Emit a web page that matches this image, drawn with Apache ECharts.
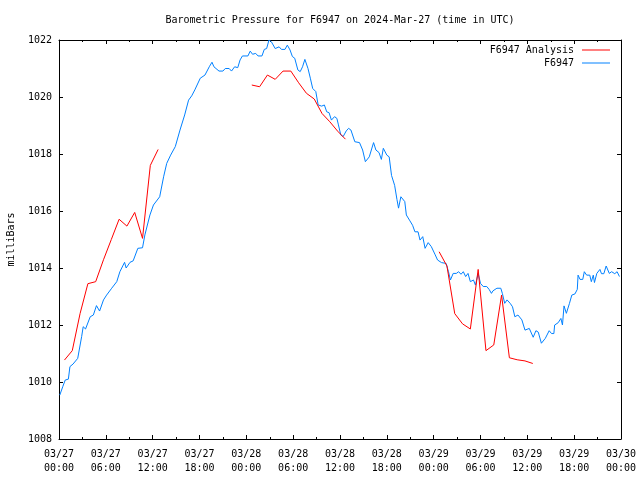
<!DOCTYPE html>
<html>
<head>
<meta charset="utf-8">
<style>html,body{margin:0;padding:0;background:#fff;}#c{width:640px;height:480px;}</style>
<script src="https://cdn.jsdelivr.net/npm/echarts/dist/echarts.min.js"></script>
</head>
<body>
<div id="c"></div>
<script>
// hours since 2024-03-27 00:00 UTC
var xTickLabels = ['03/27\n00:00','03/27\n06:00','03/27\n12:00','03/27\n18:00','03/28\n00:00','03/28\n06:00','03/28\n12:00','03/28\n18:00','03/29\n00:00','03/29\n06:00','03/29\n12:00','03/29\n18:00','03/30\n00:00'];

var obsHours = [0.1,0.5,0.8,1.2,1.4,1.8,2.4,2.9,3.1,3.4,4.0,4.4,4.8,5.2,5.7,6.1,6.75,7.4,7.8,8.4,8.6,9.1,9.5,10.1,10.7,11.0,11.65,12.1,12.9,13.4,13.8,14.3,14.9,15.5,16.1,16.6,17.0,17.4,18.1,18.7,19.25,19.6,19.85,20.1,20.5,21.0,21.3,21.8,22.1,22.5,22.9,23.2,23.5,24.2,24.5,24.8,25.2,25.5,26.0,26.3,26.6,26.9,27.2,27.7,27.9,28.2,28.5,28.95,29.25,29.6,29.9,30.2,30.6,30.9,31.2,31.5,31.9,32.2,32.5,32.9,33.2,33.65,34.0,34.3,34.6,34.9,35.3,35.6,35.8,36.1,36.4,36.8,37.1,37.4,37.9,38.5,38.9,39.25,39.75,40.3,40.6,41.0,41.3,41.55,42.0,42.3,42.6,43.0,43.3,43.5,43.8,44.0,44.3,44.5,44.9,45.3,45.6,46.0,46.25,46.6,46.9,47.3,47.7,48.2,48.5,49.0,49.6,49.9,50.15,50.5,50.9,51.2,51.5,51.8,52.1,52.4,52.7,53.1,53.35,53.7,54.0,54.35,54.8,55.1,55.4,55.6,56.1,56.6,56.8,57.1,57.4,57.8,58.1,58.4,58.8,59.05,59.3,59.7,60.25,60.75,61.1,61.4,61.8,62.3,62.8,63.1,63.4,63.5,63.95,64.3,64.5,64.7,65.0,65.4,65.7,66.1,66.4,66.5,66.75,67.1,67.3,67.6,68.0,68.2,68.45,68.6,68.9,69.3,69.5,69.8,70.1,70.5,70.8,71.2,71.5,71.8];
var obsPressure = [1009.54,1009.85,1010.07,1010.1,1010.54,1010.63,1010.83,1011.59,1011.94,1011.86,1012.29,1012.35,1012.68,1012.49,1012.88,1013.05,1013.29,1013.52,1013.87,1014.2,1014.0,1014.2,1014.25,1014.69,1014.71,1015.16,1015.86,1016.21,1016.5,1017.2,1017.67,1017.96,1018.26,1018.84,1019.37,1019.89,1020.04,1020.25,1020.66,1020.77,1021.06,1021.22,1021.06,1021.12,1020.91,1020.91,1021.0,1021.0,1020.91,1021.06,1021.03,1021.3,1021.44,1021.44,1021.61,1021.5,1021.53,1021.44,1021.44,1021.67,1021.7,1022.0,1021.94,1021.7,1021.65,1021.76,1021.67,1021.67,1021.82,1021.65,1021.42,1021.36,1020.95,1020.89,1021.06,1021.32,1021.0,1020.66,1020.3,1020.19,1019.72,1019.68,1019.72,1019.48,1019.45,1019.19,1019.31,1019.25,1019.02,1018.67,1018.61,1018.81,1018.9,1018.84,1018.43,1018.4,1018.14,1017.73,1017.9,1018.4,1018.14,1018.05,1017.81,1018.2,1017.96,1017.9,1017.25,1016.9,1016.4,1016.1,1016.5,1016.55,1016.33,1015.86,1015.68,1015.5,1015.27,1015.27,1014.98,1015.1,1014.69,1014.89,1014.75,1014.46,1014.28,1014.19,1014.16,1013.87,1013.58,1013.81,1013.81,1013.87,1013.78,1013.87,1013.7,1013.81,1013.52,1013.58,1013.4,1013.81,1013.46,1013.35,1013.35,1013.25,1013.11,1013.2,1013.29,1013.29,1013.11,1012.76,1012.88,1012.76,1012.64,1012.29,1012.35,1012.35,1012.18,1011.82,1011.88,1011.57,1011.8,1011.75,1011.36,1011.53,1011.8,1011.7,1011.7,1012.0,1012.08,1012.23,1012.0,1012.67,1012.41,1012.76,1013.05,1013.09,1013.25,1013.75,1013.6,1013.6,1013.87,1013.75,1013.75,1013.52,1013.75,1013.49,1013.81,1013.95,1013.8,1013.8,1014.07,1013.81,1013.87,1013.8,1013.87,1013.7];

var anaHours1 = [0.7,1.7,2.7,3.7,4.7,5.7,6.7,7.7,8.7,9.7,10.7,11.7,12.7];
var anaPressure1 = [1010.77,1011.1,1012.4,1013.45,1013.52,1014.29,1015.0,1015.71,1015.47,1015.95,1015.04,1017.6,1018.16];
var anaHours2 = [24.7,25.7,26.7,27.7,28.7,29.7,30.7,31.7,32.7,33.7,34.7,35.7,36.7];
var anaPressure2 = [1020.42,1020.36,1020.77,1020.62,1020.91,1020.91,1020.5,1020.13,1019.93,1019.42,1019.13,1018.8,1018.52];
var anaHours3 = [48.7,49.7,50.7,51.7,52.7,53.7,54.7,55.7,56.7,57.7,58.7,59.7,60.7];
var anaPressure3 = [1014.57,1014.07,1012.4,1012.04,1011.86,1013.95,1011.1,1011.3,1013.05,1010.85,1010.78,1010.74,1010.65];

function pairs(xs, ys){ return xs.map(function(x,i){ return [x, ys[i]]; }); }

var FONT = 'DejaVu Sans Mono';
var RED = '#ff0000', BLUE = '#0080ff';
var chart = echarts.init(document.getElementById('c'), null, {renderer:'canvas'});

function xAx(pos, showLabel){
  return {
    type:'value', position:pos, min:0, max:72, interval:6,
    axisLine:{show:true, onZero:false, lineStyle:{color:'#000', width:1}},
    axisTick:{show:true, inside:true, length:4, lineStyle:{color:'#000'}},
    minorTick:{show:true, splitNumber:2, length:2, lineStyle:{color:'#000'}},
    splitLine:{show:false},
    axisLabel:{show:showLabel, margin:8, fontFamily:FONT, fontSize:10, color:'#000', lineHeight:14,
      formatter:function(v){ return xTickLabels[Math.round(v/6)] || ''; }}
  };
}
function yAx(pos, showLabel){
  var a = {
    type:'value', position:pos, min:1008, max:1022, interval:2,
    axisLine:{show:true, onZero:false, lineStyle:{color:'#000', width:1}},
    axisTick:{show:true, inside:true, length:4, lineStyle:{color:'#000'}},
    splitLine:{show:false},
    axisLabel:{show:showLabel, margin:7, fontFamily:FONT, fontSize:10, color:'#000',
      formatter:function(v){ return String(v); }}
  };
  if (showLabel) {
    a.name = 'milliBars'; a.nameLocation = 'middle'; a.nameRotate = 90; a.nameGap = 43;
    a.nameTextStyle = {fontFamily:FONT, fontSize:10, color:'#000'};
  }
  return a;
}

var anaStyle = {type:'line', name:'F6947 Analysis', showSymbol:false, symbol:'none', color:RED,
  lineStyle:{color:RED, width:1}, z:3};

chart.setOption({
  animation:false,
  backgroundColor:'#fff',
  title:{text:'Barometric Pressure for F6947 on 2024-Mar-27 (time in UTC)', left:340, top:15, textAlign:'center', padding:0,
    textStyle:{fontFamily:FONT, fontSize:10, fontWeight:'normal', color:'#000'}},
  legend:[
    {data:['F6947 Analysis'], right:30, top:45, padding:0, align:'right', icon:'rect', itemWidth:28, itemHeight:1,
      textStyle:{fontFamily:FONT, fontSize:10, color:'#000', padding:[0,3,0,0]}},
    {data:['F6947'], right:30, top:58, padding:0, align:'right', icon:'rect', itemWidth:28, itemHeight:1,
      textStyle:{fontFamily:FONT, fontSize:10, color:'#000', padding:[0,3,0,0]}}
  ],
  grid:{left:59, right:19, top:40, bottom:41, containLabel:false, outerBoundsMode:'none'},
  xAxis:[xAx('bottom', true), xAx('top', false)],
  yAxis:[yAx('left', true), yAx('right', false)],
  series:[
    {type:'line', name:'F6947', showSymbol:false, symbol:'none', color:BLUE, lineStyle:{color:BLUE, width:1}, z:2,
      data:pairs(obsHours, obsPressure)},
    Object.assign({data:pairs(anaHours1, anaPressure1)}, anaStyle),
    Object.assign({data:pairs(anaHours2, anaPressure2)}, anaStyle),
    Object.assign({data:pairs(anaHours3, anaPressure3)}, anaStyle)
  ]
});
</script>
</body>
</html>
